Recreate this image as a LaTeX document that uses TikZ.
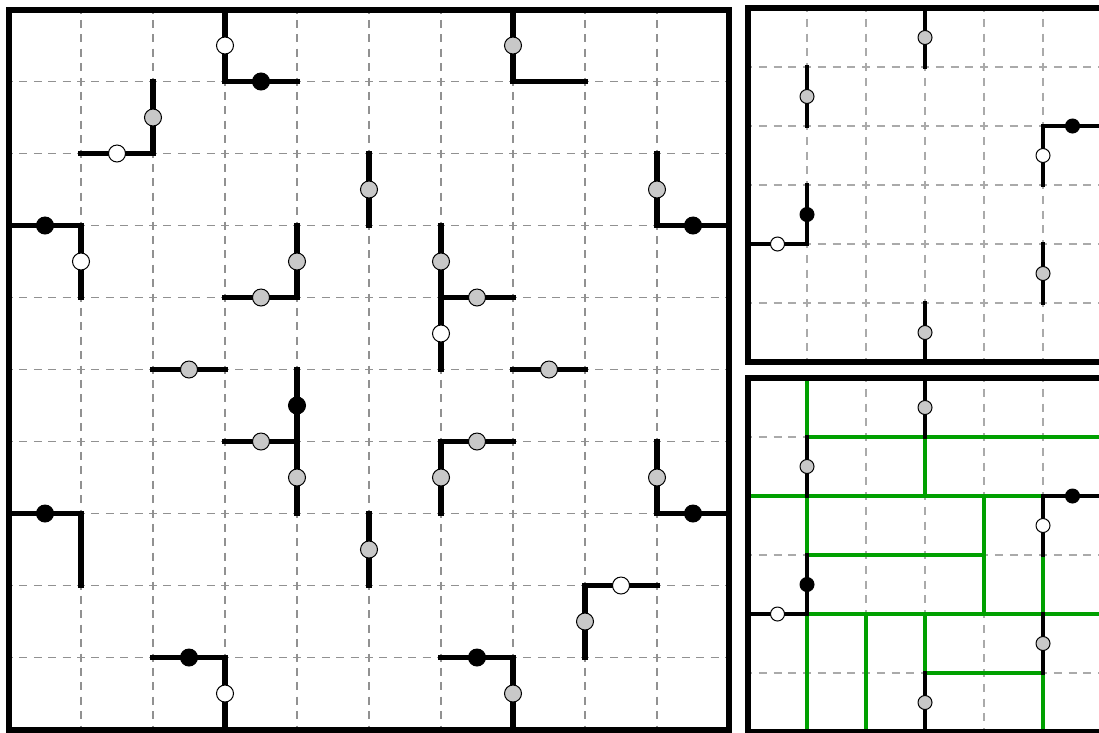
\documentclass[tikz,border=0pt]{standalone}
\definecolor{gridgrayA}{RGB}{145,145,145}
\definecolor{gridgrayB}{RGB}{170,170,170}
\definecolor{dotgray}{RGB}{200,200,200}
\definecolor{pathgreen}{RGB}{0,160,0}
\tikzset{
  gridA/.style={draw=gridgrayA, line width=1.1pt, dash pattern=on 8pt off 6.4pt, dash phase=4pt},
  gridB/.style={draw=gridgrayB, line width=1.1pt, dash pattern=on 8pt off 6.75pt, dash phase=4pt},
  wallA/.style={draw=black, line width=5.5pt, line cap=rect, line join=miter},
  wallB/.style={draw=black, line width=4pt, line cap=rect, line join=miter},
  borderA/.style={draw=black, line width=6pt, line join=miter},
  borderB/.style={draw=black, line width=5.3pt, line join=miter},
  greenpath/.style={draw=pathgreen, line width=4pt, line cap=rect},
  greydotA/.style={draw=black, fill=dotgray, line width=1pt},
  whitedotA/.style={draw=black, fill=white, line width=1pt},
  blackdotA/.style={draw=black, fill=black, line width=1pt},
}
\begin{document}
\begin{tikzpicture}[x=1pt,y=-1pt]
\useasboundingbox (0,0) rectangle (1099,732);
\clip (0,0) rectangle (1099,732);
\fill[white] (0,0) rectangle (1099,732);

% ---------------- main panel ----------------
\begin{scope}[shift={(9,9.5)}, x=72pt, y=-72pt]
  \foreach \i in {1,...,9} {
    \draw[gridA] (\i,0) -- (\i,10);
    \draw[gridA] (0,\i) -- (10,\i);
  }
  % walls
  \draw[wallA] (3,0) -- (3,1) -- (4,1);
  \draw[wallA] (2,1) -- (2,2) -- (1,2);
  \draw[wallA] (0,3) -- (1,3) -- (1,4);
  \draw[wallA] (5,2) -- (5,3);
  \draw[wallA] (4,3) -- (4,4) -- (3,4);
  \draw[wallA] (2,5) -- (3,5);
  \draw[wallA] (7,0) -- (7,1) -- (8,1);
  \draw[wallA] (9,2) -- (9,3) -- (10,3);
  \draw[wallA] (6,3) -- (6,5);
  \draw[wallA] (6,4) -- (7,4);
  \draw[wallA] (7,5) -- (8,5);
  \draw[wallA] (4,5) -- (4,7);
  \draw[wallA] (3,6) -- (4,6);
  \draw[wallA] (0,7) -- (1,7) -- (1,8);
  \draw[wallA] (5,7) -- (5,8);
  \draw[wallA] (2,9) -- (3,9) -- (3,10);
  \draw[wallA] (7,6) -- (6,6) -- (6,7);
  \draw[wallA] (9,6) -- (9,7) -- (10,7);
  \draw[wallA] (9,8) -- (8,8) -- (8,9);
  \draw[wallA] (6,9) -- (7,9) -- (7,10);
  % border
  \draw[borderA] (0,0) rectangle (10,10);
  % dots
  \foreach \p in {(3,0.5),(1.5,2),(1,3.5),(6,4.5),(3,9.5),(8.5,8)}
    \draw[whitedotA] \p circle[radius=8.5pt];
  \foreach \p in {(3.5,1),(0.5,3),(9.5,3),(4,5.5),(0.5,7),(2.5,9),(9.5,7),(6.5,9)}
    \draw[blackdotA] \p circle[radius=8.5pt];
  \foreach \p in {(2,1.5),(5,2.5),(4,3.5),(3.5,4),(2.5,5),(7,0.5),(9,2.5),(6,3.5),(6.5,4),(7.5,5),(3.5,6),(4,6.5),(5,7.5),(6.5,6),(6,6.5),(9,6.5),(8,8.5),(7,9.5)}
    \draw[greydotA] \p circle[radius=8.5pt];
\end{scope}

% ---------------- top right panel ----------------
\begin{scope}[shift={(748,8)}, x=59pt, y=-59pt]
  \foreach \i in {1,...,5} {
    \draw[gridB] (\i,0) -- (\i,6);
    \draw[gridB] (0,\i) -- (6,\i);
  }
  \draw[wallB] (3,0) -- (3,1);
  \draw[wallB] (1,1) -- (1,2);
  \draw[wallB] (6,2) -- (5,2) -- (5,3);
  \draw[wallB] (1,3) -- (1,4) -- (0,4);
  \draw[wallB] (5,4) -- (5,5);
  \draw[wallB] (3,5) -- (3,6);
  \draw[borderB] (0,0) rectangle (6,6);
  \foreach \p in {(5,2.5),(0.5,4)}
    \draw[whitedotA] \p circle[radius=7pt];
  \foreach \p in {(5.5,2),(1,3.5)}
    \draw[blackdotA] \p circle[radius=7pt];
  \foreach \p in {(3,0.5),(1,1.5),(5,4.5),(3,5.5)}
    \draw[greydotA] \p circle[radius=7pt];
\end{scope}

% ---------------- bottom right panel ----------------
\begin{scope}[shift={(748,378)}, x=59pt, y=-59pt]
  \foreach \i in {1,...,5} {
    \draw[gridB] (\i,0) -- (\i,6);
    \draw[gridB] (0,\i) -- (6,\i);
  }
  % green paths
  \draw[greenpath] (1,0) -- (1,1);
  \draw[greenpath] (1,1) -- (6,1);
  \draw[greenpath] (3,1) -- (3,2);
  \draw[greenpath] (0,2) -- (5,2);
  \draw[greenpath] (1,2) -- (1,3);
  \draw[greenpath] (1,3) -- (4,3);
  \draw[greenpath] (4,2) -- (4,4);
  \draw[greenpath] (5,3) -- (5,4);
  \draw[greenpath] (1,4) -- (6,4);
  \draw[greenpath] (1,4) -- (1,6);
  \draw[greenpath] (2,4) -- (2,6);
  \draw[greenpath] (3,4) -- (3,5);
  \draw[greenpath] (3,5) -- (5,5);
  \draw[greenpath] (5,5) -- (5,6);
  % walls
  \draw[wallB] (3,0) -- (3,1);
  \draw[wallB] (1,1) -- (1,2);
  \draw[wallB] (6,2) -- (5,2) -- (5,3);
  \draw[wallB] (1,3) -- (1,4) -- (0,4);
  \draw[wallB] (5,4) -- (5,5);
  \draw[wallB] (3,5) -- (3,6);
  \draw[borderB] (0,0) rectangle (6,6);
  \foreach \p in {(5,2.5),(0.5,4)}
    \draw[whitedotA] \p circle[radius=7pt];
  \foreach \p in {(5.5,2),(1,3.5)}
    \draw[blackdotA] \p circle[radius=7pt];
  \foreach \p in {(3,0.5),(1,1.5),(5,4.5),(3,5.5)}
    \draw[greydotA] \p circle[radius=7pt];
\end{scope}
\end{tikzpicture}
\end{document}
